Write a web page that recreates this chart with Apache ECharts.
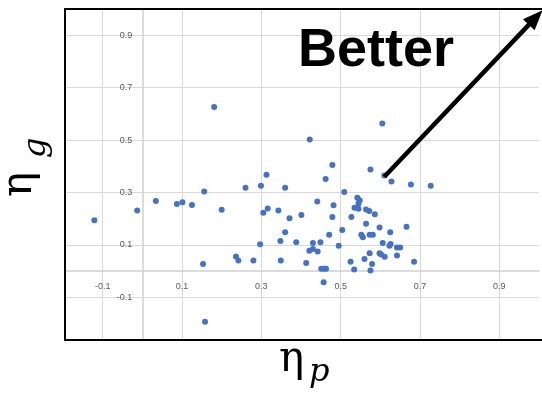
<!DOCTYPE html>
<html><head><meta charset="utf-8">
<script src="https://cdn.jsdelivr.net/npm/echarts@6/dist/echarts.min.js"></script>
<style>html,body{margin:0;padding:0;background:#fff}#c{width:542px;height:394px}</style>
</head><body><div id="c"></div>
<script>
// ---- data ----
const etaP = [-0.121,-0.013,0.034,0.087,0.101,0.125,0.156,0.200,0.260,0.299,0.313,0.360,0.305,0.316,0.343,0.371,0.401,0.360,0.348,0.388,0.297,0.236,0.242,0.280,0.349,0.413,0.153,0.158,0.181,0.422,0.605,0.479,0.575,0.462,0.610,0.628,0.677,0.727,0.509,0.441,0.482,0.542,0.548,0.545,0.535,0.545,0.564,0.572,0.586,0.479,0.527,0.564,0.504,0.598,0.666,0.471,0.552,0.556,0.573,0.581,0.625,0.430,0.449,0.421,0.430,0.442,0.495,0.606,0.623,0.626,0.642,0.650,0.525,0.560,0.573,0.598,0.602,0.611,0.642,0.685,0.579,0.451,0.458,0.463,0.534,0.575,0.457];
const etaG = [0.194,0.231,0.267,0.256,0.263,0.252,0.304,0.234,0.318,0.326,0.368,0.318,0.223,0.239,0.231,0.202,0.214,0.148,0.115,0.110,0.102,0.056,0.040,0.040,0.040,0.031,0.027,-0.193,0.626,0.502,0.563,0.405,0.388,0.351,0.365,0.342,0.330,0.326,0.302,0.265,0.251,0.280,0.270,0.258,0.242,0.238,0.235,0.229,0.217,0.206,0.206,0.181,0.157,0.166,0.169,0.139,0.139,0.129,0.139,0.139,0.148,0.107,0.110,0.078,0.084,0.075,0.097,0.107,0.097,0.103,0.090,0.090,0.036,0.046,0.068,0.068,0.063,0.055,0.059,0.036,0.027,0.009,0.009,0.009,0.006,0.002,-0.043];
const xTicks = [-0.1, 0.1, 0.3, 0.5, 0.7, 0.9];
const yTicks = [-0.1, 0.1, 0.3, 0.5, 0.7, 0.9];
const xRange = [-0.195, 1.0];
const yRange = [-0.263, 1.0];
const arrowFrom = [0.61, 0.36];
const arrowTo = [1.009, 0.995];
const calloutText = 'Better';

const points = etaP.map((x, i) => [x, etaG[i]]);
const chart = echarts.init(document.getElementById('c'), null, {renderer: 'canvas'});
const gridColor = '#d9d9d9';
const labelStyle = {color: '#595959', fontSize: 9, fontFamily: 'Liberation Sans'};

chart.setOption({
  animation: false,
  backgroundColor: '#fff',
  grid: {left: 65, top: 9, right: 3, bottom: 54, containLabel: false},
  xAxis: {
    type: 'value', min: xRange[0], max: xRange[1], position: 'bottom',
    axisLine: {show: true, onZero: false, lineStyle: {color: '#d0d0d0', width: 1.5}},
    axisTick: {show: false, customValues: xTicks},
    axisLabel: Object.assign({customValues: xTicks, margin: 11}, labelStyle),
    splitLine: {show: true, lineStyle: {color: gridColor, width: 1}}
  },
  yAxis: {
    type: 'value', min: yRange[0], max: yRange[1], position: 'left',
    axisLine: {show: true, onZero: false, lineStyle: {color: '#d0d0d0', width: 1.5}},
    axisTick: {show: false, customValues: yTicks},
    axisLabel: Object.assign({customValues: yTicks, margin: 10}, labelStyle),
    splitLine: {show: true, lineStyle: {color: gridColor, width: 1}}
  },
  series: [{
    type: 'scatter', data: points, symbol: 'circle', symbolSize: 6,
    itemStyle: {color: '#4472C4', opacity: 1}, z: 3
  }]
});

// ---- move the axes onto the zero lines (Excel-style crossing at 0) ----
const tl = chart.convertToPixel({gridIndex: 0}, [xRange[0], yRange[1]]);
const br = chart.convertToPixel({gridIndex: 0}, [xRange[1], yRange[0]]);
const origin = chart.convertToPixel({gridIndex: 0}, [0, 0]);
chart.setOption({
  xAxis: {offset: -(br[1] - origin[1])},
  yAxis: {offset: -(origin[0] - tl[0])}
});

// ---- annotations ----
const W = chart.getWidth();
const L = Math.round(tl[0]), T = Math.round(tl[1]), B = Math.round(br[1]);
const p1 = chart.convertToPixel({gridIndex: 0}, arrowFrom);
const p2 = chart.convertToPixel({gridIndex: 0}, arrowTo);
const dx = p2[0] - p1[0], dy = p2[1] - p1[1];
const len = Math.hypot(dx, dy);
const ux = dx / len, uy = dy / len, nx = -uy, ny = ux;
const headL = 20, headW = 16;
const bx = p2[0] - ux * headL, by = p2[1] - uy * headL;

const frameStyle = {stroke: '#000', lineWidth: 2};
const serif = 'DejaVu Serif';
chart.setOption({
  graphic: [
    {type: 'line', z: 10, shape: {x1: L, y1: T, x2: W, y2: T}, style: frameStyle},
    {type: 'line', z: 10, shape: {x1: L, y1: T - 1, x2: L, y2: B + 1}, style: frameStyle},
    {type: 'line', z: 10, shape: {x1: L, y1: B, x2: W, y2: B}, style: frameStyle},
    {type: 'line', z: 20, shape: {x1: p1[0], y1: p1[1], x2: bx + ux * 2, y2: by + uy * 2},
      style: {stroke: '#000', lineWidth: 4.5}},
    {type: 'polygon', z: 20, shape: {points: [[p2[0], p2[1]],
      [bx + nx * headW / 2, by + ny * headW / 2], [bx - nx * headW / 2, by - ny * headW / 2]]},
      style: {fill: '#000'}},
    {type: 'text', z: 20, style: {x: 298, y: 51, text: calloutText, fill: '#000',
      font: 'bold 54px "Liberation Sans", Arial, sans-serif', textAlign: 'left', verticalAlign: 'middle'}},
    // bottom axis title  η_p
    {type: 'text', z: 20, style: {x: 279, y: 360, text: 'η', fill: '#000',
      font: '42px "' + serif + '"', textAlign: 'left', verticalAlign: 'middle'}},
    {type: 'text', z: 20, style: {x: 309, y: 373, text: 'p', fill: '#000',
      font: 'italic 32px "' + serif + '"', textAlign: 'left', verticalAlign: 'middle'}},
    // left axis title  η_g (rotated)
    {type: 'group', x: 0, y: 200, rotation: Math.PI / 2, children: [
      {type: 'text', z: 20, style: {x: 3, y: 20, text: 'η', fill: '#000',
        font: '42px "' + serif + '"', textAlign: 'left', verticalAlign: 'middle'}},
      {type: 'text', z: 20, style: {x: 42, y: 37, text: 'g', fill: '#000',
        font: 'italic 32px "' + serif + '"', textAlign: 'left', verticalAlign: 'middle'}}
    ]}
  ]
});
</script>
</body></html>
